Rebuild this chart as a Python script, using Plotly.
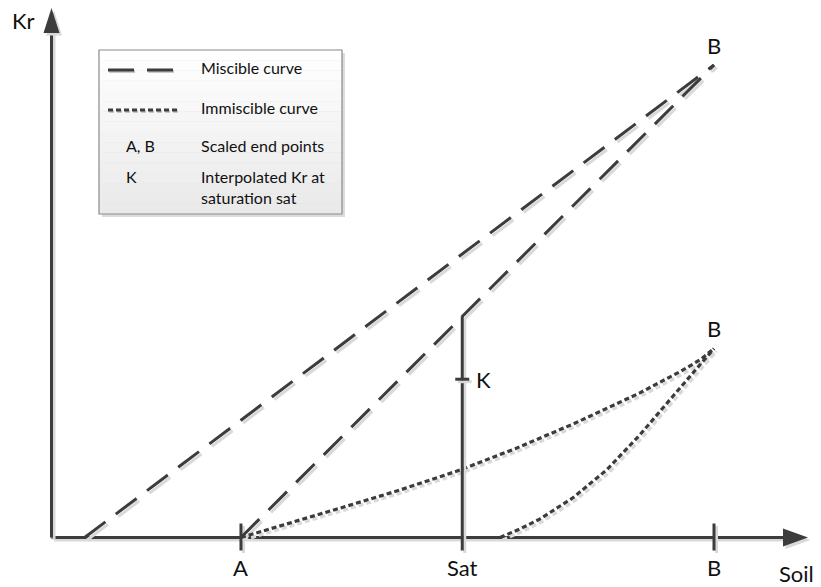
import plotly.graph_objects as go

# ---------------- data ----------------
soil_ticks = [0.286, 0.62, 1.0]
soil_tick_labels = ["A", "Sat", "B"]

miscible_x1 = [0.05, 1.0]
miscible_y1 = [0.0, 1.0]
miscible_x2 = [0.286, 1.0]
miscible_y2 = [0.0, 1.0]

immiscible_x1 = [0.286, 0.360, 0.435, 0.525, 0.617, 0.700, 0.787, 0.888, 0.950, 0.979, 1.0]
immiscible_y1 = [0.0, 0.030, 0.062, 0.100, 0.143, 0.188, 0.240, 0.306, 0.352, 0.376, 0.40]
immiscible_x2 = [0.677, 0.707, 0.737, 0.787, 0.838, 0.888, 0.938, 0.979, 1.0]
immiscible_y2 = [0.0, 0.018, 0.039, 0.084, 0.143, 0.217, 0.299, 0.365, 0.40]

sat_value = 0.62
k_value = 0.335

legend_labels = ["Miscible curve", "Immiscible curve", "Scaled end points",
                 "Interpolated Kr at<br>saturation sat"]
legend_keys = ["A, B", "K"]

# ---------------- layout helpers ----------------
W, H = 821, 587
X0PX, Y0PX = 51.5, 537.5
XU, YU = 662.5, 472.5
xr = [-X0PX / XU, (W - X0PX) / XU]
yr = [(Y0PX - H) / YU, Y0PX / YU]

def px(n):   # pixels -> x data units
    return n / XU

def py(n):   # pixels -> y data units
    return n / YU

def paper_x(p):
    return p / W

def paper_y(p):
    return 1 - p / H

LINE = "#3c3c3c"
SHADOW = "#d9d9d9"
FONT = "Lato"
DASH = "26px,13px"
DOT = "5px,3px"
SDX, SDY = px(2.5), -py(2.5)

fig = go.Figure()

def add_line(x, y, dash="solid", width=3, shape="linear", shadow=True):
    if shadow:
        fig.add_trace(go.Scatter(x=[v + SDX for v in x], y=[v + SDY for v in y],
                                 mode="lines", line=dict(color=SHADOW, width=width, dash=dash, shape=shape),
                                 hoverinfo="skip", showlegend=False))
    fig.add_trace(go.Scatter(x=x, y=y, mode="lines",
                             line=dict(color=LINE, width=width, dash=dash, shape=shape),
                             hoverinfo="skip", showlegend=False))

# axes
x_tip = xr[1] - px(13)
y_tip = yr[1] - py(8)
arrow_len_x, arrow_half_x = px(25), py(9)
arrow_len_y, arrow_half_y = py(25), px(8)
add_line([0, x_tip - arrow_len_x + px(2)], [0, 0], width=3)
add_line([0, 0], [0, y_tip - arrow_len_y + py(2)], width=3)
for sx, sy, col in [(SDX, SDY, SHADOW), (0, 0, LINE)]:
    fig.add_trace(go.Scatter(
        x=[x_tip - arrow_len_x + sx, x_tip + sx, x_tip - arrow_len_x + sx, x_tip - arrow_len_x + sx],
        y=[arrow_half_x + sy, sy, -arrow_half_x + sy, arrow_half_x + sy],
        mode="lines", fill="toself", fillcolor=col, line=dict(color=col, width=0),
        hoverinfo="skip", showlegend=False))
    fig.add_trace(go.Scatter(
        x=[-arrow_half_y + sx, sx, arrow_half_y + sx, -arrow_half_y + sx],
        y=[y_tip - arrow_len_y + sy, y_tip + sy, y_tip - arrow_len_y + sy, y_tip - arrow_len_y + sy],
        mode="lines", fill="toself", fillcolor=col, line=dict(color=col, width=0),
        hoverinfo="skip", showlegend=False))

# ticks on soil axis
for t in soil_ticks:
    if t == sat_value:
        continue
    add_line([t, t], [py(14), -py(13)], width=3)

# miscible curves
add_line(miscible_x1, miscible_y1, dash=DASH, width=3)
add_line(miscible_x2, miscible_y2, dash=DASH, width=3)

# immiscible curves
add_line(immiscible_x1, immiscible_y1, dash=DOT, width=3.2)
add_line(immiscible_x2, immiscible_y2, dash=DOT, width=3.2)

# Sat vertical line up to miscible curve 2
sat_top = miscible_y2[0] + (sat_value - miscible_x2[0]) / (miscible_x2[1] - miscible_x2[0]) * (miscible_y2[1] - miscible_y2[0])
add_line([sat_value, sat_value], [-py(13), sat_top], width=3)
# K tick
add_line([sat_value - px(7), sat_value + px(7)], [k_value, k_value], width=3)

# ---------------- labels ----------------
def label(x, y, text, size=22, xanchor="center"):
    fig.add_annotation(x=x, y=y, text=text, showarrow=False, xanchor=xanchor, yanchor="middle",
                       font=dict(family=FONT, size=size, color="#111111"))

for t, lab in zip(soil_ticks, soil_tick_labels):
    label(t, -py(29.5), lab)
label(xr[1] - px(25), -py(35.5), "Soil")
label(-px(28.5), yr[1] - py(20), "Kr")
label(miscible_x1[-1], miscible_y1[-1] + py(20), "B")
label(immiscible_x1[-1], immiscible_y1[-1] + py(20), "B")
label(sat_value + px(12), k_value, "K", xanchor="left")

# ---------------- legend box ----------------
bx0, by0, bx1, by1 = 99, 50, 342, 214
fig.add_shape(type="rect", xref="paper", yref="paper",
              x0=paper_x(bx0 + 3), x1=paper_x(bx1 + 3), y0=paper_y(by0 + 3), y1=paper_y(by1 + 3),
              fillcolor="#dcdcdc", line=dict(width=0), layer="above")
nb = 16
for i in range(nb):
    g = int(255 - (255 - 234) * i / (nb - 1))
    fig.add_shape(type="rect", xref="paper", yref="paper",
                  x0=paper_x(bx0), x1=paper_x(bx1),
                  y0=paper_y(by0 + (by1 - by0) * (i + 1) / nb), y1=paper_y(by0 + (by1 - by0) * i / nb),
                  fillcolor=f"rgb({g},{g},{g})", line=dict(width=0), layer="above")
fig.add_shape(type="rect", xref="paper", yref="paper",
              x0=paper_x(bx0), x1=paper_x(bx1), y0=paper_y(by1), y1=paper_y(by0),
              fillcolor="rgba(0,0,0,0)", line=dict(color="#8a8a8a", width=1.2), layer="above")

# legend samples
for (yy, dash) in [(70, DASH), (110, DOT)]:
    fig.add_shape(type="line", xref="paper", yref="paper",
                  x0=paper_x(109), x1=paper_x(178), y0=paper_y(yy + 1.5), y1=paper_y(yy + 1.5),
                  line=dict(color="#c8c8c8", width=3, dash=dash), layer="above")
    fig.add_shape(type="line", xref="paper", yref="paper",
                  x0=paper_x(108), x1=paper_x(177), y0=paper_y(yy), y1=paper_y(yy),
                  line=dict(color=LINE, width=3, dash=dash), layer="above")

def plabel(x, y, text, size=16):
    fig.add_annotation(xref="paper", yref="paper", x=paper_x(x), y=paper_y(y), text=text,
                       showarrow=False, xanchor="left", yanchor="middle", align="left",
                       font=dict(family=FONT, size=size, color="#111111"))

plabel(199, 68, legend_labels[0])
plabel(199, 107, legend_labels[1])
plabel(199, 146, legend_labels[2])
fig.add_annotation(xref="paper", yref="paper", x=paper_x(199), y=paper_y(165), text=legend_labels[3],
                   showarrow=False, xanchor="left", yanchor="top", align="left",
                   font=dict(family=FONT, size=16, color="#111111"))
plabel(124, 146, legend_keys[0])
plabel(124, 176, legend_keys[1])

fig.update_layout(
    width=W, height=H,
    margin=dict(l=0, r=0, t=0, b=0),
    paper_bgcolor="white", plot_bgcolor="white",
    xaxis=dict(range=xr, visible=False, fixedrange=True),
    yaxis=dict(range=yr, visible=False, fixedrange=True),
    showlegend=False,
)

fig.write_html("out.html", config={"displayModeBar": False},
               post_script="document.body.style.margin='0px';document.body.style.overflow='hidden';")
